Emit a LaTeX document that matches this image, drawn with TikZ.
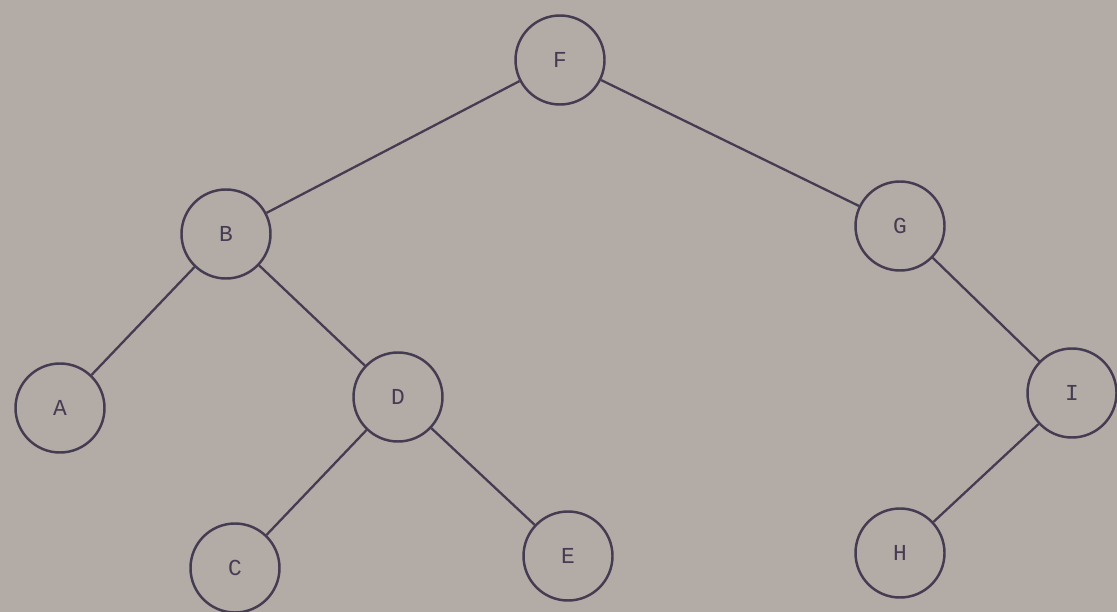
\documentclass[tikz,border=0pt]{standalone}
\usepackage{fontspec}
\setmonofont{Liberation Mono}
\usepackage{xcolor}
\usetikzlibrary{positioning, backgrounds}
\definecolor{paper}{RGB}{178, 171, 166}
\definecolor{ink}{RGB}{70, 60, 82}

\begin{document}
\begin{tikzpicture}[
    every node/.style={font=\ttfamily\fontsize{13}{15}\selectfont, text=ink},
    vertex/.style={circle, draw=ink, line width=1.4pt, minimum size=1.78cm, inner sep=0pt},
    branch/.style={draw=ink, line width=1.3pt}
]
\fill[paper] (0,0) rectangle (22.34,-12.24);
\useasboundingbox (0,0) rectangle (22.34,-12.24);
\node[vertex] (f) at (11.2,-1.2) {F};
\node[vertex] (b) at (4.52,-4.68) {B};
\node[vertex] (g) at (18.0,-4.52) {G};
\node[vertex] (a) at (1.2,-8.16) {A};
\node[vertex] (d) at (7.96,-7.94) {D};
\node[vertex] (i) at (21.44,-7.86) {I};
\node[vertex] (c) at (4.7,-11.36) {C};
\node[vertex] (e) at (11.36,-11.12) {E};
\node[vertex] (h) at (18.0,-11.06) {H};
\draw[branch] (f) -- (b);
\draw[branch] (f) -- (g);
\draw[branch] (b) -- (a);
\draw[branch] (b) -- (d);
\draw[branch] (d) -- (c);
\draw[branch] (d) -- (e);
\draw[branch] (g) -- (i);
\draw[branch] (i) -- (h);
\end{tikzpicture}
\end{document}
